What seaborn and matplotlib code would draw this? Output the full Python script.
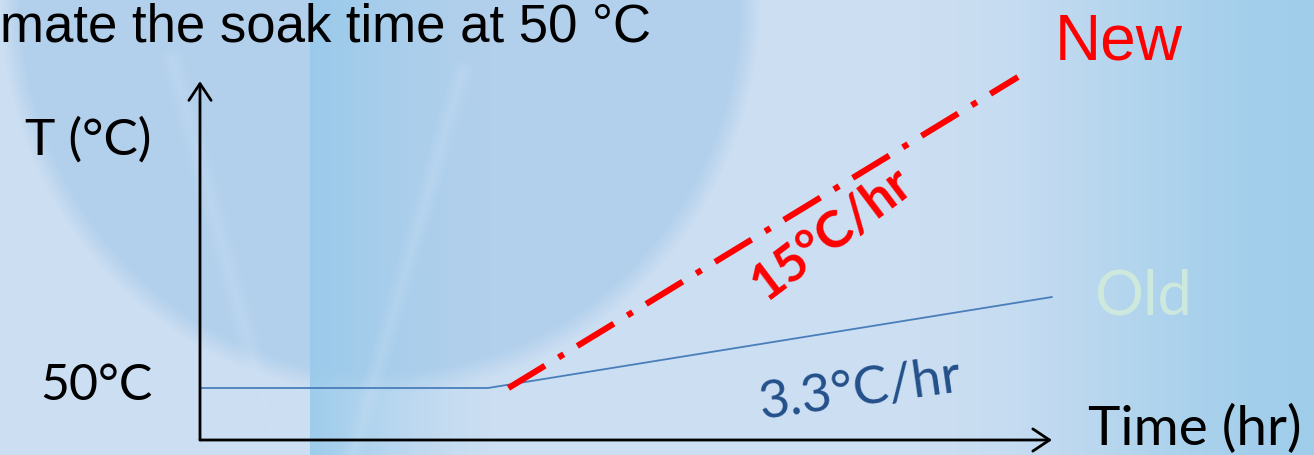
import numpy as np
import seaborn as sns
import matplotlib.pyplot as plt

# schematic soak profile (time in hr, temperature in deg C)
time_old = [0.0, 3.38, 10.0]
temp_old = [50.0, 50.0, 67.5]
time_new = [3.62, 9.6]
temp_new = [50.0, 109.8]
time_max = 10.0
temp_floor = 40.0
temp_top = 109.0

W, H = 1314, 456

sns.set_theme(style='white')
plt.rcParams['font.family'] = ['Lato', 'DejaVu Sans']


def at(px, py):  # pixel position -> figure fraction
    return px / W, 1 - py / H


def blend(img, w, rgb):
    w = np.clip(w, 0, 1)[..., None]
    return img * (1 - w) + np.array(rgb) / 255 * w


def streak(xx, yy, p0, p1, width):
    # distance of each pixel to the segment p0-p1
    (x0, y0), (x1, y1) = p0, p1
    dx, dy = x1 - x0, y1 - y0
    t = np.clip(((xx - x0) * dx + (yy - y0) * dy) / (dx * dx + dy * dy), 0, 1)
    d = np.hypot(xx - (x0 + t * dx), yy - (y0 + t * dy))
    return np.clip(1 - d / width, 0, 1)


def background():
    yy, xx = np.mgrid[0:H, 0:W].astype(float)
    img = np.ones((H, W, 3)) * np.array([203, 222, 242]) / 255
    # big soft oval
    e = np.hypot((xx - 380) / 380, (yy - 0) / 395)
    img = blend(img, (1 - e) * 40 * 0.45, [178, 208, 236])
    # vertical band fading to the right
    t = (xx - 310) / 180
    img = blend(img, np.where((t >= 0) & (t <= 1), (1 - np.clip(t, 0, 1)) ** 1.4, 0) * 0.85,
                [150, 201, 234])
    # faint light streaks
    img = blend(img, streak(xx, yy, (172, 60), (278, 456), 14) * 0.25, [212, 229, 246])
    img = blend(img, streak(xx, yy, (462, 72), (352, 456), 12) * 0.25, [212, 229, 246])
    # right side gradient
    s = np.clip((xx - 920) / 394, 0, 1)
    img = blend(img, s * s * (3 - 2 * s) * 0.9, [156, 204, 234])
    return img


fig = plt.figure(figsize=(W / 100, H / 100), dpi=100)
ax = fig.add_axes([0, 0, 1, 1])

# map data so that axis origin sits at (200, 441) px
px_hr = 85.2
px_deg = 5.2
xlim = (-200 / px_hr, (W - 200) / px_hr)
ylim = (temp_floor - (H - 441) / px_deg, temp_floor + 441 / px_deg)
ax.imshow(background(), extent=(xlim[0], xlim[1], ylim[0], ylim[1]),
          aspect='auto', zorder=0, origin='upper', interpolation='bilinear')
ax.set_xlim(*xlim)
ax.set_ylim(*ylim)
ax.set_axis_off()

sns.lineplot(x=time_old, y=temp_old, ax=ax, color='#4A7EBB', lw=1.3,
             sort=False, estimator=None, zorder=3)
sns.lineplot(x=time_new, y=temp_new, ax=ax, color='#FF0000', lw=4.4,
             sort=False, estimator=None, zorder=4)
ax.lines[-1].set_linestyle((0, (7, 2.6, 1, 2.6)))
ax.lines[-1].set_dash_capstyle('butt')

arrow = dict(arrowstyle='->,head_length=0.6,head_width=0.4', color='black',
             lw=2.0, mutation_scale=20, shrinkA=0, shrinkB=0)
ax.annotate('', xy=(time_max, temp_floor), xytext=(0, temp_floor), arrowprops=arrow)
ax.annotate('', xy=(0, temp_top), xytext=(0, temp_floor), arrowprops=arrow)

fig.text(*at(0, 42), 'mate the soak time at 50 °C', fontsize=38,
         family='Liberation Sans', color='black', va='baseline')
fig.text(*at(25, 155), 'T (°C)', fontsize=37, color='black', va='baseline')
fig.text(*at(40, 400), '50°C', fontsize=36, color='black', va='baseline')
fig.text(*at(1088, 445), 'Time (hr)', fontsize=39.5, color='black', va='baseline')
fig.text(*at(1055, 60), 'New', fontsize=46, family='Liberation Sans',
         color='#FF0000', va='baseline')
fig.text(*at(1094, 315), 'Old', fontsize=44, color='#CDE8DC', va='baseline')
fig.text(*at(832, 234), '15°C/hr', fontsize=37, fontweight='bold', color='#FF0000',
         rotation=37, ha='center', va='center', rotation_mode='anchor')
fig.text(*at(860, 390), '3.3°C/hr', fontsize=38, color='#24508A',
         rotation=8, ha='center', va='center', rotation_mode='anchor')

fig.savefig('out.png', dpi=100)
